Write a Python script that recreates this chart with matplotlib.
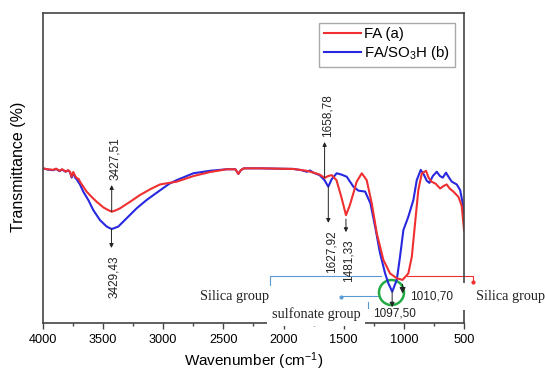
import matplotlib
matplotlib.use("Agg")
import matplotlib.pyplot as plt
from matplotlib.patches import Rectangle

plt.rcParams["font.family"] = ["Liberation Sans", "DejaVu Sans"]
plt.rcParams["mathtext.fontset"] = "custom"
plt.rcParams["mathtext.rm"] = "Liberation Sans"
plt.rcParams["mathtext.it"] = "Liberation Sans:italic"

# espectros FTIR (numero de onda em cm-1, transmitancia em % arbitraria)
wn_fa = [4000, 3960, 3913, 3890, 3860, 3840, 3810, 3790, 3774, 3760,
         3747, 3730, 3719, 3700, 3691, 3664, 3636, 3600, 3552, 3497,
         3460, 3427, 3390, 3358, 3275, 3192, 3100, 3026, 2887, 2749,
         2611, 2472, 2400, 2375, 2355, 2330, 2195, 1918, 1807, 1750,
         1700, 1658, 1630, 1599, 1560, 1520, 1481, 1450, 1420, 1392,
         1350, 1309, 1267, 1225, 1170, 1115, 1059, 1011, 963, 934,
         907, 880, 851, 816, 795, 770, 735, 699, 670, 644,
         620, 589, 547, 520, 500]
t_fa = [50.0, 49.7, 49.5, 49.9, 49.2, 49.7, 49.0, 49.4, 48.9, 47.3,
        48.8, 47.5, 46.9, 46.5, 45.7, 44.1, 42.5, 41.0, 39.2, 37.4,
        36.6, 36.0, 36.5, 37.1, 39.2, 41.4, 43.4, 44.8, 45.7, 47.5,
        48.8, 49.7, 49.7, 48.2, 49.4, 50.0, 50.0, 49.8, 49.2, 48.6,
        48.0, 46.9, 47.5, 47.8, 46.2, 40.8, 34.9, 38.0, 41.9, 45.7,
        48.4, 46.2, 38.7, 29.0, 20.4, 16.1, 14.5, 14.0, 16.1, 21.5,
        32.3, 43.0, 48.4, 49.2, 47.0, 45.7, 45.0, 43.5, 44.3, 44.8,
        43.5, 42.5, 40.8, 38.0, 30.0]

wn_fas = [4000, 3960, 3913, 3890, 3860, 3840, 3810, 3790, 3774, 3760,
          3747, 3730, 3719, 3691, 3664, 3622, 3580, 3525, 3469, 3427,
          3373, 3303, 3220, 3137, 3040, 2950, 2887, 2749, 2611, 2472,
          2400, 2375, 2355, 2330, 2195, 1918, 1850, 1807, 1780, 1752,
          1700, 1660, 1628, 1600, 1558, 1520, 1475, 1420, 1378, 1322,
          1278, 1239, 1198, 1156, 1129, 1097, 1059, 1032, 1004, 963,
          921, 893, 860, 832, 810, 788, 760, 727, 700, 677,
          650, 625, 602, 561, 533, 515, 500]
t_fas = [50.0, 49.6, 49.4, 49.8, 49.1, 49.6, 48.9, 49.3, 48.8, 47.0,
         48.6, 46.9, 46.5, 44.8, 42.5, 39.8, 36.5, 33.3, 31.2, 30.4,
         31.2, 33.9, 37.1, 39.8, 42.5, 45.0, 46.2, 48.4, 49.2, 49.7,
         49.7, 48.2, 49.4, 50.0, 50.0, 49.8, 49.4, 48.9, 49.3, 48.6,
         47.8, 46.2, 44.1, 46.5, 48.4, 48.0, 47.3, 44.1, 42.8, 42.5,
         38.7, 31.2, 22.6, 16.1, 12.9, 10.2, 14.0, 21.5, 30.1, 34.4,
         39.8, 46.2, 49.5, 47.8, 46.0, 45.3, 47.5, 48.9, 47.5, 47.0,
         48.6, 47.0, 45.7, 44.8, 43.0, 39.5, 35.5]

# picos marcados: (numero de onda, T inicio da seta, T ponta da seta)
picos_cima = [(3427.51, 36.0, 44.6), (1658.78, 47.0, 58.5)]
picos_baixo = [(3429.43, 30.4, 24.3), (1627.92, 44.1, 32.4), (1481.33, 33.6, 29.4)]

VERMELHO = "#f03030"
AZUL = "#2828e0"
AZUL_CLARO = "#5b9bd5"


def rotulo(v):
    return f"{v:.2f}".replace(".", ",")


def seta(ax, x, y0, y1, ms=6):
    ax.annotate("", xy=(x, y1), xytext=(x, y0),
                arrowprops=dict(arrowstyle="-|>", color="#222222", lw=0.7,
                                mutation_scale=ms, shrinkA=0, shrinkB=0))


fig = plt.figure(figsize=(5.45, 3.72), dpi=100)
ax = fig.add_axes([0.0785, 0.131, 0.773, 0.833])

# vermelho por cima do azul
ax.plot(wn_fa, t_fa, color=VERMELHO, lw=1.5, label="FA (a)", zorder=2.2)
ax.plot(wn_fas, t_fas, color=AZUL, lw=1.5, label="FA/SO$_3$H (b)", zorder=2.1)

ax.set_xlim(4000, 500)
ax.set_ylim(0, 100)
ax.set_xticks([4000, 3500, 3000, 2500, 2000, 1500, 1000, 500])
ax.set_xticks(range(750, 4000, 500), minor=True)
ax.set_yticks([])
ax.tick_params(axis="x", which="major", direction="out", length=4, width=1.0,
               labelsize=9.2, pad=3.5, color="#444444")
ax.tick_params(axis="x", which="minor", direction="out", length=2, width=1.0,
               color="#444444")
for s in ax.spines.values():
    s.set_color("#444444")
    s.set_linewidth(1.2)

# setas e valores dos picos
for x, y0, y1 in picos_cima:
    seta(ax, x, y0, y1)
    ax.text(x - 25, y1 + 1.7, rotulo(x), rotation=90, ha="center", va="bottom",
            fontsize=8.5, color="#222222")
for x, y0, y1 in picos_baixo:
    seta(ax, x, y0, y1)
    ax.text(x - 25, y1 - 2.3, rotulo(x), rotation=90, ha="center", va="top",
            fontsize=8.5, color="#222222")

# regiao da silica / sulfonato
ax.plot([2109, 2109, 1190], [12.4, 15.4, 15.4], color=AZUL_CLARO, lw=0.8)
ax.plot([975, 427, 427], [15.4, 15.4, 13.4], color=VERMELHO, lw=0.8, clip_on=False)
ax.plot([427], [13.4], "o", color=VERMELHO, ms=2, clip_on=False)
ax.plot([1525, 1206], [8.8, 8.8], color=AZUL_CLARO, lw=0.8)
ax.plot([1525], [8.6], "o", color=AZUL_CLARO, ms=2)
ax.plot([1106], [10.0], "o", ms=18, mfc="none", mec="#22aa44", mew=1.8, clip_on=False)

seta(ax, 1097.50, 10.2, 5.2, ms=7)
seta(ax, 1010.70, 12.6, 9.6, ms=9)
ax.text(1082, 3.0, rotulo(1097.50), ha="center", va="center", fontsize=8.5,
        color="#222222")
ax.text(945, 8.5, rotulo(1010.70), ha="left", va="center", fontsize=8.5,
        color="#222222")

ax.text(2120, 8.5, "Silica group", ha="right", va="center", fontsize=10.3,
        family="Liberation Serif", color="#222222")
ax.text(404, 8.5, "Silica group", ha="left", va="center", fontsize=10.3,
        family="Liberation Serif", color="#222222", clip_on=False)
ax.text(1730, 2.9, "sulfonate group", ha="center", va="center", fontsize=10.3,
        family="Liberation Serif", color="#222222", zorder=5,
        bbox=dict(boxstyle="square,pad=0.35", facecolor="white", edgecolor="none"))
ax.plot([1294, 1294], [4.9, 6.9], color=AZUL_CLARO, lw=0.8, zorder=6)

# corte no eixo da direita
ax.add_patch(Rectangle((0.99, 0.043), 0.02, 0.087, transform=ax.transAxes,
                       facecolor="white", edgecolor="none", zorder=4, clip_on=False))

leg = ax.legend(loc="upper right", bbox_to_anchor=(0.9777, 0.9697), borderaxespad=0,
                fontsize=10.8, handlelength=2.5, handletextpad=0.2, labelspacing=0.2,
                borderpad=0.3, fancybox=False, framealpha=1)
leg.get_frame().set_edgecolor("#aaaaaa")
leg.get_frame().set_linewidth(1.0)

fig.text(19 / 545, 1 - 167 / 372, "Transmittance (%)", rotation=90, ha="center",
         va="center", fontsize=11.5)
fig.text(254 / 545, 6.0 / 372, "Wavenumber (cm$^{-1}$)", ha="center", va="baseline",
         fontsize=11)

fig.savefig("out.png", dpi=100)
